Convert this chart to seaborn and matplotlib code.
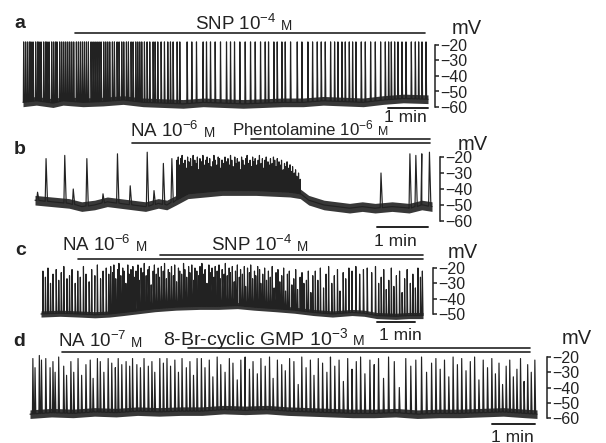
import numpy as np
import pandas as pd
import matplotlib
matplotlib.use("Agg")
import matplotlib.pyplot as plt
import seaborn as sns
from matplotlib.lines import Line2D

# ---- data (time in s, potential in mV) ----

# a: SNP 1e-4 M
a_spk = [1, 4, 7, 10, 12, 15, 19, 22, 24, 27, 31, 34, 36, 39, 43, 46, 49, 51, 55, 58,
         61, 64, 67, 70, 73, 76, 80, 83, 86, 89, 92, 95, 98, 102, 105, 108, 111, 114,
         117, 121, 124, 127, 130, 134, 137, 141, 144, 148, 151, 155, 158, 162, 165,
         169, 172, 175, 178, 182, 186, 190, 195, 198, 202, 207, 212, 217, 221, 225,
         231, 235, 246, 253, 260, 270, 275, 281, 288, 296, 305, 311, 317, 325, 333,
         341, 348, 356, 363, 368, 376, 381, 388, 393, 401, 411, 418, 427, 434, 441,
         447, 453, 461, 467, 472, 478, 483, 489, 494, 499, 507, 513, 521, 528, 536,
         543, 548, 552, 557, 562, 568, 574, 582, 588, 593, 598, 604]
a_peak = -18
a_base_t = [0, 20, 45, 60, 90, 120, 150, 180, 210, 240, 270, 300, 330, 360, 390, 420,
            450, 480, 510, 540, 570, 607]
a_base_v = [-57, -56, -57.5, -56, -57, -56.5, -55.5, -57, -57.5, -58, -57, -57.5, -58,
            -57.5, -57, -57, -56, -56.5, -57, -55.5, -54.5, -55]

# b: NA 1e-6 M, then phentolamine 1e-6 M
b_iso_t = [3, 13, 35, 45, 61, 80, 97, 112, 132, 140, 151, 161, 407, 441, 448, 455, 464]
b_iso_pk = [-42, -21, -19, -40, -21, -43, -18, -38, -17, -41, -24, -21, -30, -18, -19, -18, -17]
b_burst_t = [167, 168.5, 170, 171.5, 173, 175, 176.5, 178, 179.5, 181, 183, 184.5, 186,
             188, 189.5, 191, 192.5, 194, 196, 197.5, 199, 201, 202.5, 204, 205.5, 207,
             209, 210.5, 212, 214, 215.5, 217, 218.5, 220, 222, 223.5, 225, 227, 228.5,
             230, 231.5, 233, 235, 236.5, 238, 240, 241.5, 243, 244.5, 246, 248, 249.5,
             251, 253, 254.5, 256, 257.5, 259, 261, 262.5, 264, 266, 267.5, 269, 270.5,
             272, 274, 275.5, 277, 279, 280.5, 282, 283.5, 285, 287, 288.5, 290, 292,
             293.5, 295, 296.5, 298, 300, 301.5, 303, 305, 306.5, 308, 310, 312]
b_burst_pk = [-22, -20, -25, -21, -19, -24, -22, -27, -20, -23, -21, -26, -19, -22, -24,
              -20, -28, -21, -23, -19, -25, -22, -20, -24, -21, -26, -23, -19, -22, -25,
              -20, -21, -27, -22, -24, -20, -23, -21, -25, -19, -22, -26, -20, -24, -21,
              -23, -28, -20, -22, -25, -21, -19, -24, -22, -26, -20, -23, -21, -25, -22,
              -19, -24, -21, -27, -22, -20, -23, -25, -21, -24, -20, -22, -26, -21, -23,
              -25, -22, -28, -24, -26, -23, -27, -25, -29, -26, -30, -28, -32, -30, -34]
b_base_t = [0, 20, 40, 55, 70, 85, 100, 115, 130, 145, 155, 166, 180, 220, 260, 300,
            312, 322, 340, 355, 370, 385, 400, 420, 440, 455, 467]
b_base_v = [-47, -48, -49, -51, -50, -48, -49, -50, -51, -49, -50, -47, -43, -41, -41,
            -42, -43, -47, -50, -51, -52, -51, -52, -51, -52, -50, -51]

# c: NA 1e-6 M, then SNP 1e-4 M
c_spk = [3, 7, 11, 15, 19, 24, 28, 32, 36, 41, 45, 49, 54, 58, 62, 67, 71, 76, 80, 85,
         89, 94, 98, 103, 107,
         110, 113, 115, 118, 121, 123, 126, 129, 131, 134, 137, 139, 142, 145, 147, 150,
         153, 155, 158, 161, 163, 166, 169, 171, 174, 177, 179, 182, 185, 187, 190, 193,
         195, 198, 201, 203, 206, 209, 211, 214, 217, 219, 222, 225, 227, 230, 233, 235,
         238, 241, 243, 246, 249, 251, 254, 257, 259, 262, 265, 267, 270, 273, 275, 278,
         281, 283, 286, 289, 291, 294, 297, 299, 302, 305, 307, 310, 313, 315, 318, 321,
         323, 326, 329, 331, 334, 337, 339, 342, 345, 347, 350, 353, 356, 359, 362, 365,
         368, 371, 374, 377, 380, 383, 386, 389, 392, 396, 399, 402, 405, 409, 412, 415,
         419, 422, 426, 429,
         433, 437, 441, 446, 450, 454, 459, 463, 468, 472, 477, 481, 486, 491, 497, 503,
         509, 515, 522, 528, 533, 537, 541, 545, 549, 553, 557, 561, 566, 570, 574, 578,
         583, 587, 591, 595, 599, 602]
c_pk = [-22, -26, -20, -30, -24, -21, -28, -23, -19, -27, -25, -21, -30, -22, -26, -19,
        -24, -29, -21, -25, -18, -27, -22, -20, -24,
        -19, -23, -18, -27, -21, -17, -25, -20, -22, -30, -18, -24, -21, -19, -26, -22,
        -18, -28, -20, -23, -17, -25, -21, -19, -31, -22, -18, -24, -20, -26, -19, -22,
        -17, -27, -21, -23, -19, -25, -18, -29, -20, -22, -24, -17, -21, -26, -19, -23,
        -18, -28, -20, -22, -25, -19, -17, -24, -21, -30, -18, -23, -20, -26, -19, -22,
        -18, -27, -21, -24, -17, -25, -20, -23, -19, -29, -22, -18, -26, -21, -24, -19,
        -32, -20, -23, -18, -27, -22, -25, -19, -21, -30, -24, -20, -28, -22, -26, -19,
        -33, -23, -21, -29, -25, -20, -35, -24, -22, -31, -27, -21, -34, -26, -23, -30,
        -28, -22, -36, -25,
        -22, -28, -20, -33, -24, -19, -30, -25, -21, -35, -23, -27, -20, -22, -19, -24,
        -21, -20, -23, -19, -30, -26, -21, -34, -28, -20, -32, -25, -22, -36, -27, -21,
        -30, -24, -33, -20, -26, -22]
c_base_t = [0, 30, 60, 85, 108, 130, 150, 180, 213, 250, 280, 310, 336, 370, 400, 430,
            460, 491, 510, 530, 560, 580, 603]
c_base_v = [-50, -49.5, -50, -50.5, -50, -49, -48, -46.5, -45.5, -45, -45, -44.5, -45.5,
            -46.5, -47.5, -49, -50, -49, -49.5, -51, -51.5, -51, -51]

# d: NA 1e-7 M, then 8-Br-cyclic GMP 1e-3 M
d_spk = [4, 7, 13, 16, 22, 28, 32, 35, 40, 47, 51, 57, 61, 67, 72, 78, 84, 88, 94, 98,
         103, 109, 114, 119, 123, 128, 134, 139, 143, 149, 154, 159, 165, 170, 174, 181,
         186, 191, 196, 202, 207, 212, 218, 223, 228, 233,
         239, 244, 250, 255, 261, 266, 272, 278, 283, 289, 294, 300, 306, 311, 317, 322,
         328, 334, 339, 345, 351, 356, 362, 368, 374, 379, 385, 391, 396, 402, 408, 414,
         419, 425, 431, 437, 443, 449, 455, 461, 467, 474, 480, 486, 493, 500, 508, 515,
         524, 531, 538, 546, 553, 560, 566, 572, 578, 584, 590, 596, 602, 608, 614, 620,
         626, 632, 638, 644, 649, 654, 659, 664, 669, 674, 679, 684, 689, 694, 699, 704]
d_pk = [-21, -27, -19, -22, -21, -27, -23, -30, -20, -26, -32, -23, -30, -21, -32, -25,
        -22, -34, -21, -23, -30, -21, -24, -27, -21, -25, -23, -26, -21, -25, -27, -21,
        -26, -23, -30, -21, -24, -21, -26, -22, -30, -21, -27, -23, -32, -21,
        -21, -27, -22, -33, -20, -25, -30, -21, -24, -35, -22, -20, -28, -23, -31, -21,
        -26, -20, -34, -22, -25, -29, -21, -23, -38, -20, -27, -22, -32, -21, -24, -30,
        -20, -26, -22, -36, -21, -28, -23, -20, -31, -22, -25, -21, -34, -20, -23, -40,
        -21, -26, -22, -20, -30, -24, -21, -28, -22, -33, -20, -25, -21, -29, -23, -20,
        -35, -22, -27, -21, -31, -24, -38, -26, -22, -33, -28, -21, -36, -25, -30, -22]
d_base_t = [0, 30, 60, 90, 120, 150, 180, 210, 240, 270, 300, 330, 360, 390, 420, 450,
            480, 510, 540, 570, 600, 630, 660, 690, 707]
d_base_v = [-57.5, -56.5, -57, -56, -56.5, -55.5, -56, -55.5, -55.5, -54.5, -55, -54.5,
            -55.5, -56, -56.5, -57, -57, -56.5, -57.5, -57, -57, -56.5, -56, -57, -57.5]

# ---- drawing ----
W, H = 606, 443
INK = "#222222"

sns.set_theme(style="white")
plt.rcParams['font.family'] = ['Liberation Sans', 'DejaVu Sans']
plt.rcParams['mathtext.fontset'] = 'custom'
plt.rcParams['mathtext.rm'] = 'Liberation Sans'
plt.rcParams['mathtext.it'] = 'Liberation Sans:italic'
plt.rcParams['mathtext.sf'] = 'Liberation Sans'

fig = plt.figure(figsize=(W / 100, H / 100), dpi=100)
fig.patch.set_facecolor('white')


def trace(spk, pk, base_t, base_v, w1=0.5, w2=0.9):
    spk = np.asarray(spk, float)
    pk = np.broadcast_to(np.asarray(pk, float), spk.shape)
    b = np.interp(spk, base_t, base_v)
    t = np.concatenate([spk - w1, spk, spk + w2, base_t])
    v = np.concatenate([b, pk, b, base_v])
    return pd.DataFrame({'t': t, 'mV': v})


def sorted_df(*dfs):
    df = pd.concat(dfs, ignore_index=True)
    return df.sort_values('t', kind='stable').reset_index(drop=True)


def panel(x0, x1, ytop, ybot, xlim, ylim, df, base_t, base_v, band, off, bar):
    ax = fig.add_axes([x0 / W, 1 - ybot / H, (x1 - x0) / W, (ybot - ytop) / H])
    ax.patch.set_alpha(0)
    bt = np.asarray(base_t, float)
    bv = np.asarray(base_v, float)
    ax.fill_between(bt, bv - band, bv + band, color=INK, lw=0, alpha=0.9, clip_on=False)
    sns.lineplot(data=df, x='t', y='mV', ax=ax, sort=False, estimator=None,
                 color=INK, lw=0.85)
    for ln in ax.lines:
        ln.set_clip_on(False)
    ax.plot(bar[0], [bar[1], bar[1]], color=INK, lw=1.4, clip_on=False)
    ax.set_xlim(xlim)
    ax.set_ylim(ylim)
    ax.set_xlabel('')
    ax.set_ylabel('')
    ax.set_xticks([])
    for s in ['top', 'left', 'bottom']:
        ax.spines[s].set_visible(False)
    sp = ax.spines['right']
    sp.set_visible(True)
    sp.set_bounds(*ylim)
    sp.set_position(('outward', off * 0.72))
    sp.set_color(INK)
    sp.set_linewidth(1.1)
    ax.yaxis.tick_right()
    ax.set_yticks(list(range(ylim[1], ylim[0] - 1, -10)))
    ax.tick_params(axis='y', right=True, left=False, direction='out', length=3,
                   width=1.1, pad=0.5, labelsize=11.5, colors=INK)
    return ax


df_a = sorted_df(trace(a_spk, a_peak, a_base_t, a_base_v))
df_b = sorted_df(trace(b_iso_t, b_iso_pk, b_base_t, b_base_v, 1.0, 1.7),
                 trace(b_burst_t, b_burst_pk[:len(b_burst_t)], b_base_t, b_base_v, 0.5, 0.7))
n_c = min(len(c_spk), len(c_pk))
df_c = sorted_df(trace(c_spk[:n_c], c_pk[:n_c], c_base_t, c_base_v))
n_d = min(len(d_spk), len(d_pk))
df_d = sorted_df(trace(d_spk[:n_d], d_pk[:n_d], d_base_t, d_base_v, 0.6, 1.1))

panel(23, 428, 45, 107, (0, 607), (-60, -20), df_a, a_base_t, a_base_v, 2.8, 7,
      ([547, 607], -60.6))
panel(35, 432, 157, 221, (0, 467), (-60, -20), df_b, b_base_t, b_base_v, 3.0, 8,
      ([402, 462], -63.8))
panel(41, 423, 268, 314, (0, 603), (-50, -20), df_c, c_base_t, c_base_v, 2.0, 10,
      ([531, 591], -55.2))
panel(30, 537, 357, 418, (0, 707), (-60, -20), df_d, d_base_t, d_base_v, 2.8, 10,
      ([644, 704], -63.9))


def ftext(x, y, s, **kw):
    kw.setdefault('color', INK)
    return fig.text(x / W, 1 - y / H, s, **kw)


def header(x, y, s, size):
    t = ftext(x, y, s, fontsize=size, ha='left', va='baseline')
    fig.canvas.draw()
    bb = t.get_window_extent()
    fig.text((bb.x1 + size * 0.35) / W, 1 - y / H, 'M', fontsize=size * 0.72,
             color=INK, ha='left', va='baseline')


def hline(x0, x1, y, lw=1.2):
    fig.add_artist(Line2D([x0 / W, x1 / W], [1 - y / H, 1 - y / H], color=INK, lw=lw))


for lab, (x, y) in zip('abcd', [(20, 23), (20, 149), (21, 250), (19, 342)]):
    ftext(x, y, lab, fontsize=14, fontweight='bold', ha='center', va='center')

for (x, y) in [(467, 29), (473, 144), (463, 252), (577, 338)]:
    ftext(x, y, 'mV', fontsize=14.5, ha='center', va='center')

for (x, y) in [(405, 118), (395, 241), (400, 336), (512, 437)]:
    ftext(x, y, '1 min', fontsize=12.5, ha='center', va='center')

header(195, 30, r'SNP 10$^{\mathregular{-4}}$', 13.5)
header(130, 137, r'NA 10$^{\mathregular{-6}}$', 13.5)
header(232, 135, r'Phentolamine 10$^{\mathregular{-6}}$', 12.2)
header(62, 251, r'NA 10$^{\mathregular{-6}}$', 13.5)
header(211, 251, r'SNP 10$^{\mathregular{-4}}$', 13.5)
header(58, 347, r'NA 10$^{\mathregular{-7}}$', 13.5)
header(163, 345, r'8-Br-cyclic GMP 10$^{\mathregular{-3}}$', 14)

hline(75, 425, 33)
hline(251, 430, 139)
hline(132, 430, 142.5)
hline(160, 423, 255)
hline(78, 423, 259)
hline(188, 530, 348)
hline(62, 530, 352)

fig.savefig('out.png', dpi=100, facecolor='white')
